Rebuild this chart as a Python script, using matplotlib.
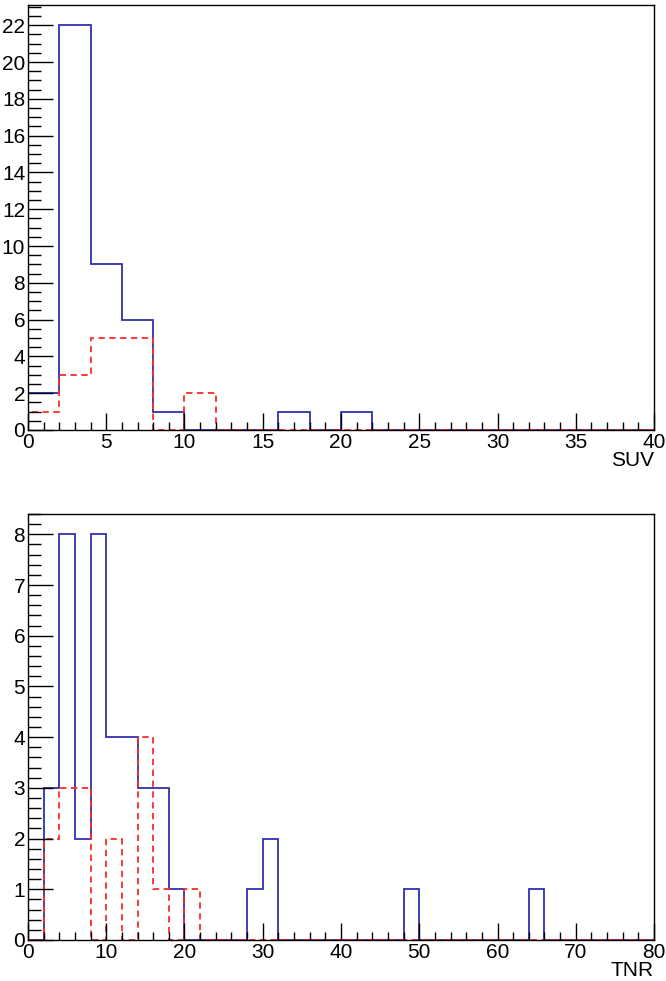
import matplotlib
matplotlib.use('Agg')
import matplotlib.pyplot as plt
import numpy as np
from matplotlib.ticker import MultipleLocator

plt.rcParams['font.family'] = ['Liberation Sans', 'DejaVu Sans']

# SUV histograms, bin width 2 from 0 to 40
suv_edges = np.arange(0, 42, 2)
suv_blue = [2, 22, 9, 6, 1, 0, 0, 0, 1, 0, 1, 0, 0, 0, 0, 0, 0, 0, 0, 0]
suv_red = [1, 3, 5, 5, 0, 2, 0, 0, 0, 0, 0, 0, 0, 0, 0, 0, 0, 0, 0, 0]

# TNR histograms, bin width 2 from 0 to 80
tnr_edges = np.arange(0, 82, 2)
tnr_blue = [0, 3, 8, 2, 8, 4, 4, 3, 3, 1, 0, 0, 0, 0, 1, 2, 0, 0, 0, 0,
            0, 0, 0, 0, 1, 0, 0, 0, 0, 0, 0, 0, 1, 0, 0, 0, 0, 0, 0, 0]
tnr_red = [0, 2, 3, 3, 0, 2, 0, 4, 1, 0, 1, 0, 0, 0, 0, 0, 0, 0, 0, 0,
           0, 0, 0, 0, 0, 0, 0, 0, 0, 0, 0, 0, 0, 0, 0, 0, 0, 0, 0, 0]

BLUE = '#3030b0'
RED = '#ff2a2a'

fig = plt.figure(figsize=(6.66, 9.81), dpi=100)


def draw_hist(ax, edges, blue, red, xmaj, xmin_, ymaj, ymin_, ytop, title):
    ax.stairs(blue, edges, color=BLUE, lw=1.3, baseline=0)
    ax.stairs(red, edges, color=RED, lw=1.3, linestyle=(0, (3.5, 2.5)), baseline=0)
    ax.set_xlim(edges[0], edges[-1])
    ax.set_ylim(0, ytop)
    ax.xaxis.set_major_locator(MultipleLocator(xmaj))
    ax.xaxis.set_minor_locator(MultipleLocator(xmin_))
    ax.yaxis.set_major_locator(MultipleLocator(ymaj))
    ax.yaxis.set_minor_locator(MultipleLocator(ymin_))
    ax.tick_params(which='both', direction='in', top=False, right=False,
                   labelsize=15, width=1)
    ax.tick_params(axis='x', which='major', length=12, pad=2)
    ax.tick_params(axis='x', which='minor', length=6)
    ax.tick_params(axis='y', which='major', length=18, pad=2)
    ax.tick_params(axis='y', which='minor', length=9)
    for s in ax.spines.values():
        s.set_linewidth(1)
    ax.text(1.0, -0.05, title, transform=ax.transAxes, ha='right', va='top',
            fontsize=15)


ax1 = fig.add_axes([0.042, 0.5617, 0.940, 0.4332])
draw_hist(ax1, suv_edges, suv_blue, suv_red, 5, 1, 2, 0.5, 23.1, 'SUV')

ax2 = fig.add_axes([0.042, 0.0418, 0.940, 0.4342])
draw_hist(ax2, tnr_edges, tnr_blue, tnr_red, 10, 2, 1, 0.2, 8.4, 'TNR')

fig.savefig('out.png', dpi=100)
